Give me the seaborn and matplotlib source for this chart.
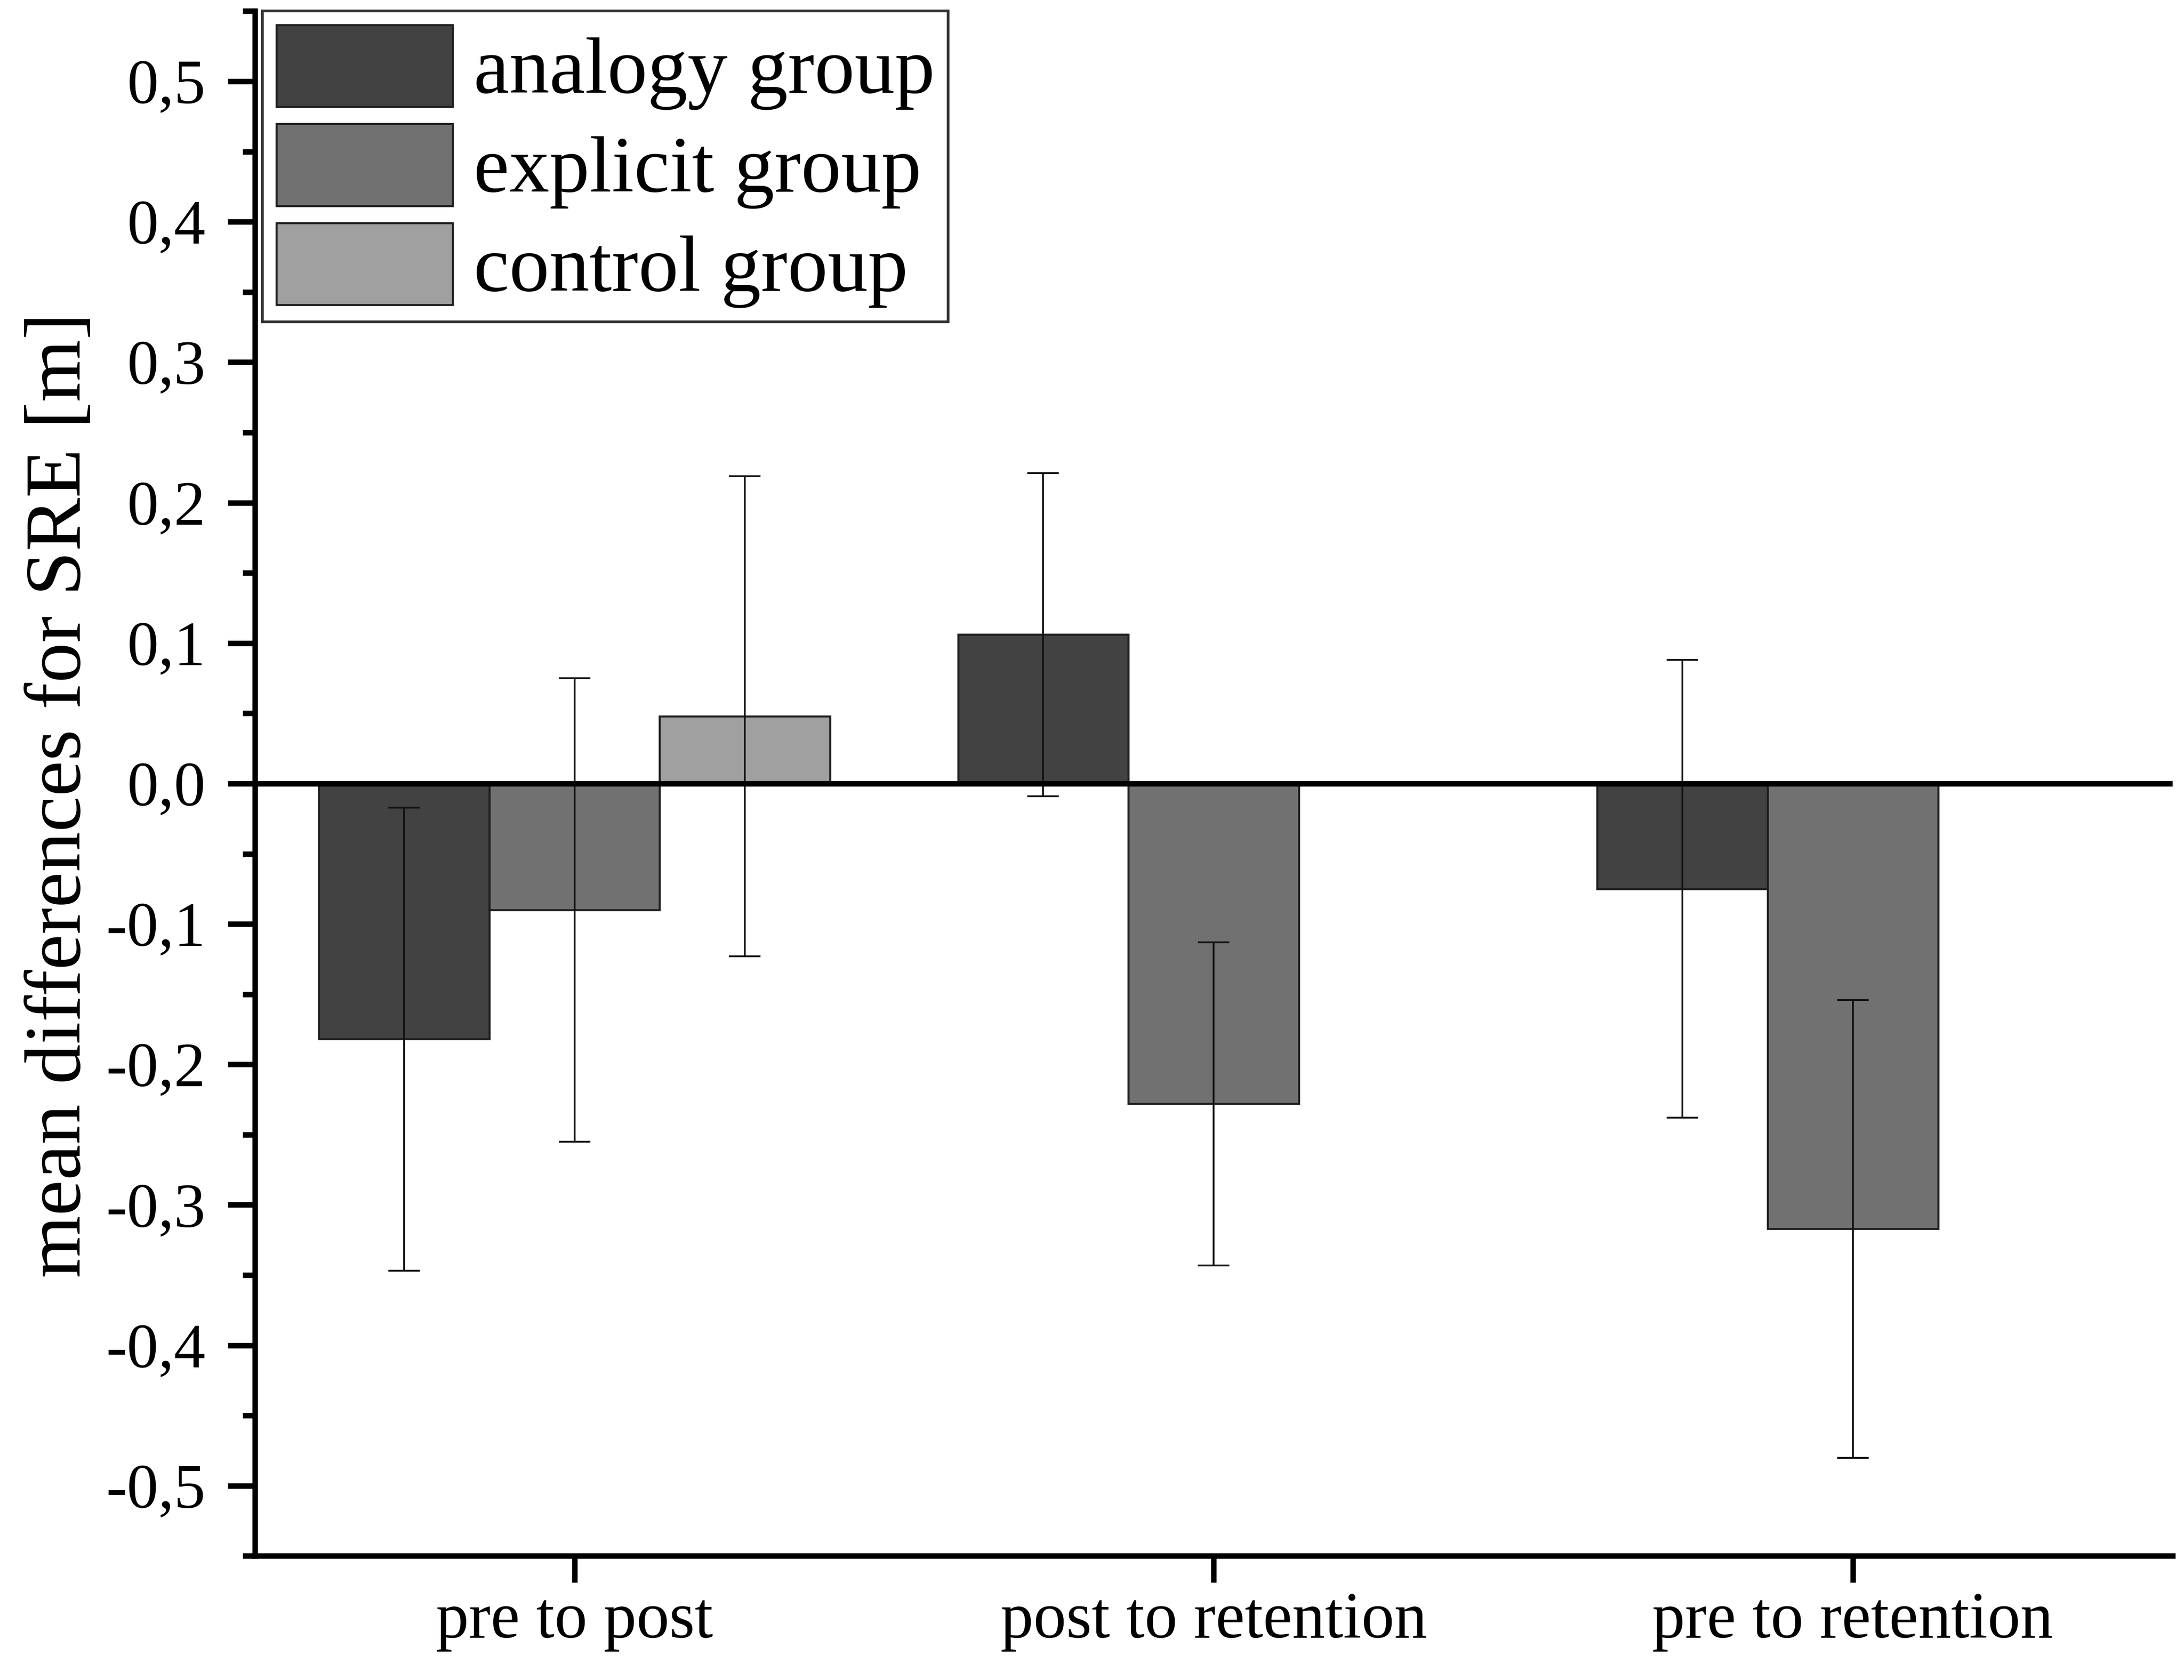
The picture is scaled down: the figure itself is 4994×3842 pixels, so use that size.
import numpy as np
import pandas as pd
import matplotlib
matplotlib.use("Agg")
import matplotlib.pyplot as plt
import seaborn as sns
from matplotlib.ticker import MultipleLocator, FuncFormatter

# dados
fases = ["pre to post", "post to retention", "pre to retention"]
grupos = ["analogy group", "explicit group", "control group"]
media_analogy = [-0.182, 0.106, -0.075]
media_explicit = [-0.090, -0.228, -0.317]
media_control = [0.048, np.nan, np.nan]
erro_analogy = [0.165, 0.115, 0.163]
erro_explicit = [0.165, 0.115, 0.163]
erro_control = [0.171, np.nan, np.nan]
cores = ["#424242", "#717171", "#a0a0a0"]

dados = pd.DataFrame({
    "fase": fases * 3,
    "grupo": [g for g in grupos for _ in fases],
    "media": media_analogy + media_explicit + media_control,
    "erro": erro_analogy + erro_explicit + erro_control,
})

sns.set_style("ticks")
plt.rcParams["font.family"] = ["Liberation Serif", "DejaVu Serif"]
plt.rcParams["text.color"] = "black"
plt.rcParams["axes.labelcolor"] = "black"
plt.rcParams["xtick.color"] = "black"
plt.rcParams["ytick.color"] = "black"

fig = plt.figure(figsize=(4994 / 300, 3842 / 300), dpi=300)
ax = fig.add_axes([0.1167, 0.0738, 0.878, 0.9196])

sns.barplot(data=dados.dropna(), x="fase", y="media", hue="grupo",
            order=fases, hue_order=grupos, palette=cores, width=0.8,
            errorbar=None, edgecolor="#1e1e1e", linewidth=1.1, saturation=1,
            ax=ax)

# barras de erro
for i, grupo in enumerate(grupos):
    sub = dados[dados["grupo"] == grupo].dropna()
    for barra, erro in zip(ax.containers[i], sub["erro"]):
        x = barra.get_x() + barra.get_width() / 2
        ax.errorbar(x, barra.get_height(), yerr=erro, fmt="none",
                    ecolor="#111111", elinewidth=1.0, capsize=8.6,
                    capthick=1.0, zorder=5)

ax.axhline(0, color="black", lw=3, zorder=6)

ax.set_xlim(-0.5, 2.5)
ax.set_ylim(-0.55, 0.55)
ax.yaxis.set_major_locator(MultipleLocator(0.1))
ax.yaxis.set_minor_locator(MultipleLocator(0.05))
ax.yaxis.set_major_formatter(FuncFormatter(lambda v, p: f"{v:.1f}".replace(".", ",").replace("-0,0", "0,0")))
ax.tick_params(axis="y", which="major", length=15, width=3, labelsize=34.5, pad=12)
ax.tick_params(axis="y", which="minor", length=6.7, width=3)
ax.tick_params(axis="x", length=14.7, width=3, labelsize=36, pad=5)

sns.despine(ax=ax)
for s in ["left", "bottom"]:
    ax.spines[s].set_linewidth(3)
    ax.spines[s].set_color("black")

ax.set_xlabel("")
ax.set_ylabel("mean differences for SRE [m]", fontsize=44, labelpad=5)
ax.yaxis.label.set_y(0.4925)

handles, labels = ax.get_legend_handles_labels()
leg = ax.legend(handles, labels, loc="upper left", bbox_to_anchor=(0.004, 1.0),
                borderaxespad=0, fontsize=44, frameon=True, fancybox=False,
                edgecolor="black", handlelength=2.2, handleheight=1.2,
                labelspacing=0.17, handletextpad=0.26, borderpad=0.17)
leg.get_frame().set_linewidth(1.5)

fig.savefig("out.png", dpi=300)
